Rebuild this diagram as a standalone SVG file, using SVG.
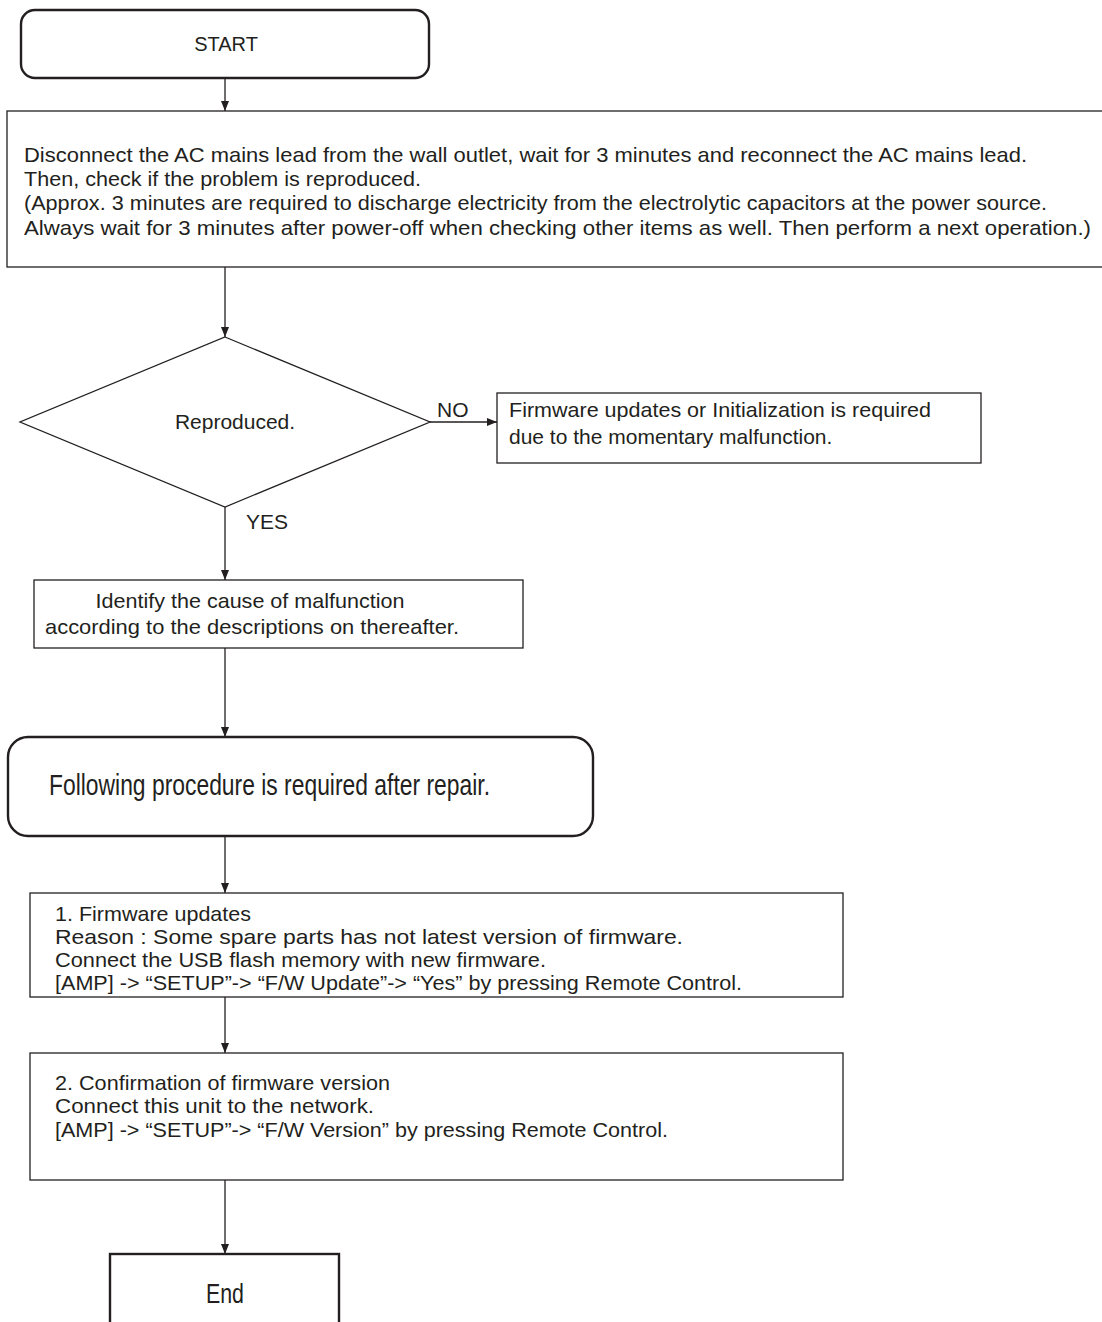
<svg xmlns="http://www.w3.org/2000/svg" width="1102" height="1322" viewBox="0 0 1102 1322">
<style>
.box{fill:#fff;stroke:#231f20;stroke-width:1.3}
.bold{fill:#fff;stroke:#231f20;stroke-width:2.4}
.t{font-family:"Liberation Sans",Arial,sans-serif;font-size:21px;fill:#231f20}
.c{text-anchor:middle}
.conn{stroke:#231f20;stroke-width:1.3;fill:none}
</style>
<defs>
<marker id="ah" viewBox="0 0 10 10" refX="10" refY="5" markerWidth="10" markerHeight="10" markerUnits="userSpaceOnUse" orient="auto">
<path d="M0,1 L10,5 L0,9 Z" fill="#231f20"/>
</marker>
</defs>
<rect width="1102" height="1322" fill="#fff"/>
<g id="connectors">
<line class="conn" x1="225" y1="78" x2="225" y2="111" marker-end="url(#ah)"/>
<line class="conn" x1="225" y1="267" x2="225" y2="337" marker-end="url(#ah)"/>
<line class="conn" x1="430" y1="422" x2="497" y2="422" marker-end="url(#ah)"/>
<line class="conn" x1="225" y1="507" x2="225" y2="580" marker-end="url(#ah)"/>
<line class="conn" x1="225" y1="648" x2="225" y2="737" marker-end="url(#ah)"/>
<line class="conn" x1="225" y1="836" x2="225" y2="893" marker-end="url(#ah)"/>
<line class="conn" x1="225" y1="997" x2="225" y2="1053" marker-end="url(#ah)"/>
<line class="conn" x1="225" y1="1180" x2="225" y2="1254" marker-end="url(#ah)"/>
<text class="t" x="437" y="417">NO</text>
<text class="t" x="246" y="529">YES</text>
</g>
<g id="start">
<rect class="bold" x="21" y="10" width="408" height="68" rx="14"/>
<text class="t c" x="226" y="51" style="font-size:20px">START</text>
</g>
<g id="disconnect">
<rect class="box" x="7" y="111" width="1100" height="156"/>
<text class="t" x="24" y="162" textLength="1003" lengthAdjust="spacingAndGlyphs">Disconnect the AC mains lead from the wall outlet, wait for 3 minutes and reconnect the AC mains lead.</text>
<text class="t" x="24" y="186" textLength="397" lengthAdjust="spacingAndGlyphs">Then, check if the problem is reproduced.</text>
<text class="t" x="24" y="210" textLength="1023" lengthAdjust="spacingAndGlyphs">(Approx. 3 minutes are required to discharge electricity from the electrolytic capacitors at the power source.</text>
<text class="t" x="24" y="235" textLength="1067" lengthAdjust="spacingAndGlyphs">Always wait for 3 minutes after power-off when checking other items as well. Then perform a next operation.)</text>
</g>
<g id="reproduced">
<polygon class="box" points="225,337 430,422 225,507 20,422"/>
<text class="t c" x="235" y="429">Reproduced.</text>
</g>
<g id="firmware-init">
<rect class="box" x="497" y="393" width="484" height="70"/>
<text class="t" x="509" y="417" textLength="422" lengthAdjust="spacingAndGlyphs">Firmware updates or Initialization is required</text>
<text class="t" x="509" y="444">due to the momentary malfunction.</text>
</g>
<g id="identify">
<rect class="box" x="34" y="580" width="489" height="68"/>
<text class="t c" x="250" y="608" textLength="309" lengthAdjust="spacingAndGlyphs">Identify the cause of malfunction</text>
<text class="t c" x="252" y="634" textLength="414" lengthAdjust="spacingAndGlyphs">according to the descriptions on  thereafter.</text>
</g>
<g id="following">
<rect class="bold" x="8" y="737" width="585" height="99" rx="20"/>
<text class="t" x="49" y="795" style="font-size:30px" textLength="441" lengthAdjust="spacingAndGlyphs">Following procedure is required after repair.</text>
</g>
<g id="step1">
<rect class="box" x="30" y="893" width="813" height="104"/>
<text class="t" x="55" y="921" textLength="196" lengthAdjust="spacingAndGlyphs">1. Firmware updates</text>
<text class="t" x="55" y="944" textLength="628" lengthAdjust="spacingAndGlyphs">Reason : Some spare parts has not latest version of firmware.</text>
<text class="t" x="55" y="967" textLength="491" lengthAdjust="spacingAndGlyphs">Connect the USB flash memory with new firmware.</text>
<text class="t" x="55" y="990" textLength="687" lengthAdjust="spacingAndGlyphs">[AMP] -&gt; “SETUP”-&gt; “F/W Update”-&gt; “Yes” by pressing Remote Control.</text>
</g>
<g id="step2">
<rect class="box" x="30" y="1053" width="813" height="127"/>
<text class="t" x="55" y="1090" textLength="335" lengthAdjust="spacingAndGlyphs">2. Confirmation of firmware version</text>
<text class="t" x="55" y="1113" textLength="319" lengthAdjust="spacingAndGlyphs">Connect this unit to the network.</text>
<text class="t" x="55" y="1137" textLength="613" lengthAdjust="spacingAndGlyphs">[AMP] -&gt; “SETUP”-&gt; “F/W Version” by pressing Remote Control.</text>
</g>
<g id="end">
<rect class="bold" x="110" y="1254" width="229" height="100"/>
<text class="t c" x="225" y="1303" style="font-size:27px" textLength="38" lengthAdjust="spacingAndGlyphs">End</text>
</g>
</svg>
